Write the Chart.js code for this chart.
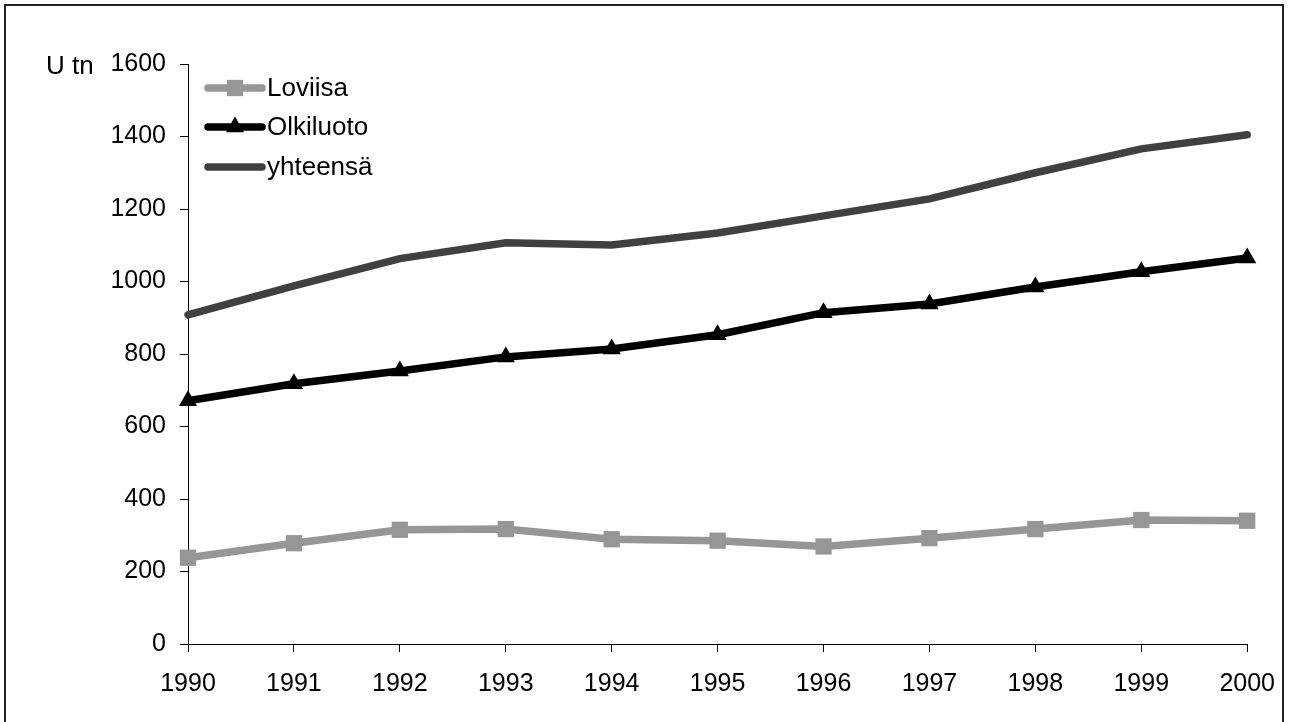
<!DOCTYPE html>
<html>
<head>
<meta charset="utf-8">
<script src="https://cdn.jsdelivr.net/npm/chart.js@4.4.1/dist/chart.umd.min.js"></script>
<style>
  html, body { margin: 0; padding: 0; background: #fff; }
  #wrap { width: 1292px; height: 722px; position: relative; }
</style>
</head>
<body>
<div id="wrap"><canvas id="c" width="1292" height="722"></canvas></div>
<script>
const years = ['1990','1991','1992','1993','1994','1995','1996','1997','1998','1999','2000'];
const loviisa = [238, 278, 315, 317, 289, 285, 269, 292, 317, 342, 340];
const olkiluoto = [671, 718, 753, 792, 814, 853, 914, 938, 985, 1027, 1065];
const yhteensa = [908, 988, 1063, 1107, 1101, 1134, 1181, 1228, 1300, 1366, 1405];
const yTicks = [0, 200, 400, 600, 800, 1000, 1200, 1400, 1600];
const unitLabel = 'U tn';

const FONT = 'Liberation Sans, Arial, sans-serif';

const framePlugin = {
  id: 'frame',
  afterDraw(chart) {
    const ctx = chart.ctx;
    ctx.save();
    ctx.strokeStyle = '#222';
    ctx.lineWidth = 2;
    ctx.strokeRect(5, 5, 1278, 730);
    // unit label
    const y = chart.scales.y.getPixelForValue(1600);
    ctx.fillStyle = '#000';
    ctx.font = '26px ' + FONT;
    ctx.textAlign = 'left';
    ctx.textBaseline = 'middle';
    ctx.fillText(unitLabel, 46, y + 3);
    // legend
    const items = chart.data.datasets;
    const ys = [88, 127, 167];
    items.forEach((ds, i) => {
      const yy = ys[i];
      ctx.strokeStyle = ds.borderColor;
      ctx.lineWidth = ds.borderWidth;
      ctx.lineCap = 'round';
      ctx.beginPath();
      ctx.moveTo(208, yy);
      ctx.lineTo(262, yy);
      ctx.stroke();
      if (ds.pointStyle && ds.pointRadius > 0) {
        ctx.fillStyle = ds.pointBackgroundColor;
        ctx.strokeStyle = ds.pointBackgroundColor;
        Chart.helpers.drawPoint(ctx, {pointStyle: ds.pointStyle, rotation: 0, borderWidth: 0, radius: ds.pointRadius}, 235, yy);
      }
      ctx.fillStyle = '#000';
      ctx.font = '26px ' + FONT;
      ctx.textAlign = 'left';
      ctx.textBaseline = 'middle';
      ctx.fillText(ds.label, 267, yy + 1);
    });
    ctx.restore();
  }
};

new Chart(document.getElementById('c'), {
  type: 'line',
  data: {
    labels: years,
    datasets: [
      {
        label: 'Loviisa', data: loviisa,
        borderColor: '#969696', backgroundColor: '#969696',
        pointBackgroundColor: '#969696', pointBorderColor: '#969696',
        borderWidth: 7.5, pointStyle: 'rect', pointRadius: 11.5, pointBorderWidth: 0,
        tension: 0, clip: false
      },
      {
        label: 'Olkiluoto', data: olkiluoto,
        borderColor: '#000', backgroundColor: '#000',
        pointBackgroundColor: '#000', pointBorderColor: '#000',
        borderWidth: 7.5, pointStyle: 'triangle', pointRadius: 10.5, pointBorderWidth: 0,
        tension: 0, clip: false
      },
      {
        label: 'yhteensä', data: yhteensa,
        borderColor: '#404040', backgroundColor: '#404040',
        borderWidth: 7.5, pointRadius: 0,
        tension: 0, clip: false, borderCapStyle: 'round'
      }
    ]
  },
  options: {
    responsive: false,
    animation: false,
    devicePixelRatio: 1,
    layout: { padding: { top: 64, right: 44, left: 0, bottom: 0 } },
    plugins: { legend: { display: false }, tooltip: { enabled: false }, title: { display: false } },
    scales: {
      x: {
        type: 'category',
        offset: false,
        grid: { display: true, drawOnChartArea: false, drawTicks: true, tickLength: 8, color: '#000', lineWidth: 1 },
        border: { display: true, color: '#000', width: 1 },
        ticks: { color: '#000', font: { family: FONT, size: 25 }, padding: 17, maxRotation: 0, autoSkip: false },
        afterFit(scale) { scale.height = 722 - 644; }
      },
      y: {
        min: 0, max: 1600,
        afterBuildTicks(scale) { scale.ticks = yTicks.map(v => ({ value: v })); },
        grid: { display: true, drawOnChartArea: false, drawTicks: true, tickLength: 8, color: '#000', lineWidth: 1 },
        border: { display: true, color: '#000', width: 1 },
        ticks: { color: '#000', font: { family: FONT, size: 25 }, padding: 14, callback: (v) => String(v) },
        afterFit(scale) { scale.width = 188; }
      }
    }
  },
  plugins: [framePlugin]
});
</script>
</body>
</html>
